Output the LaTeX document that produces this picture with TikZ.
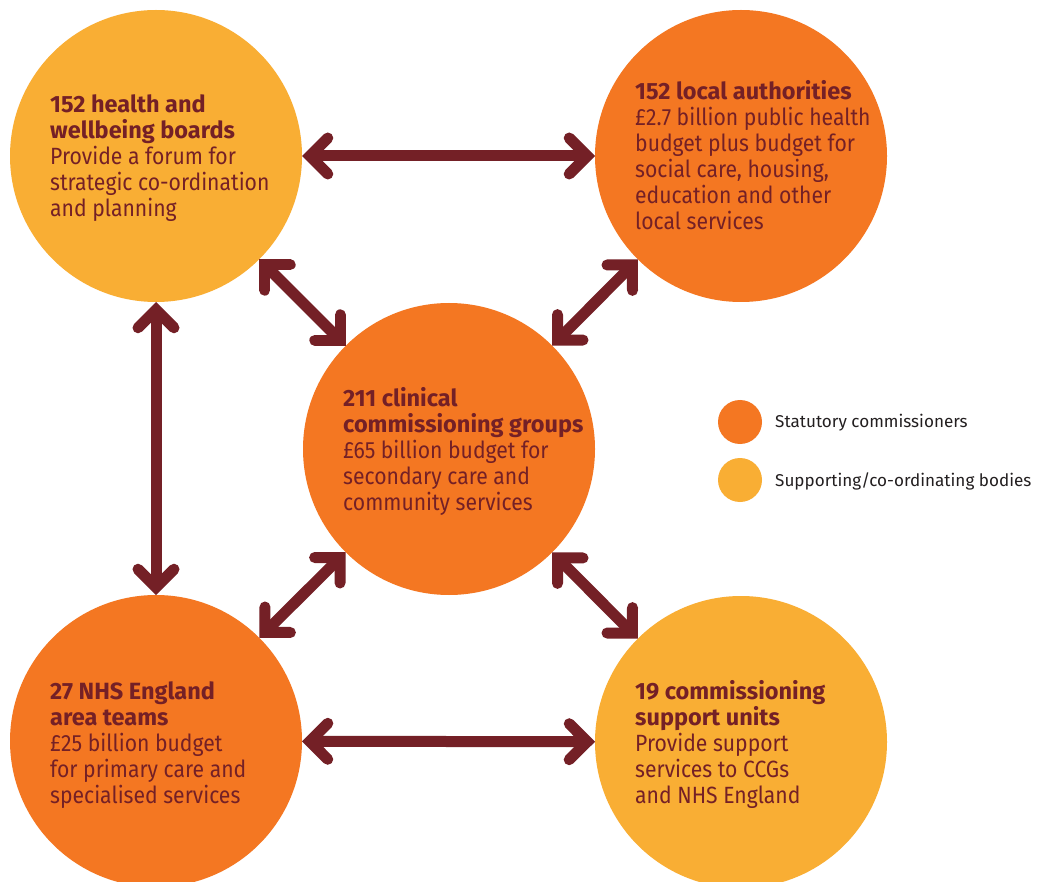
\documentclass[tikz,border=0pt]{standalone}
\usepackage{fontspec}
\setmainfont{Fira Sans}
\newfontfamily\bodyfont{Fira Sans}[FakeStretch=0.9]
\usetikzlibrary{arrows.meta}
\definecolor{orangeC}{RGB}{244,119,34}
\definecolor{yellowC}{RGB}{249,174,52}
\definecolor{maroonC}{RGB}{116,32,38}
\definecolor{legtext}{RGB}{35,31,32}
\newcommand{\ttl}{\bfseries}
\newcommand{\bdy}{\bodyfont\mdseries}
\begin{document}
\begin{tikzpicture}[x=1pt,y=-1pt,
  circ/.style={circle, minimum size=292pt, inner sep=0pt, outer sep=0pt},
  stat/.style={circ, fill=orangeC},
  supp/.style={circ, fill=yellowC},
  tipb/.tip={Straight Barb[length=18pt,width=36pt,line cap=round,line join=miter]},
  arr/.style={line width=11pt, draw=maroonC, tipb-tipb},
  lbl/.style={anchor=base west, align=left, inner sep=0pt, text=maroonC,
    font=\fontsize{23.5}{26}\selectfont},
  legc/.style={circle, minimum size=44pt, inner sep=0pt},
  legl/.style={anchor=base west, inner sep=0pt, text=legtext,
    font=\fontsize{17.1}{20}\selectfont}]
\clip (0,0) rectangle (1044,882);
\fill[white] (0,0) rectangle (1044,882);
% circles
\node[supp] (hwb) at (156,156) {};
\node[stat] (la)  at (741,156) {};
\node[stat] (ccg) at (449,449) {};
\node[stat] (nhs) at (156,741) {};
\node[supp] (csu) at (741,742) {};
% texts (anchored at the baseline of the last line)
\node[lbl] (thwb) at (50,217) {\ttl 152 health and\\ \ttl wellbeing boards\\ \bdy Provide a forum for\\ \bdy strategic co-ordination\\ \bdy and planning};
\node[lbl] (tla) at (635,230) {\ttl 152 local authorities\\ \bdy £2.7 billion public health\\ \bdy budget plus budget for\\ \bdy social care, housing,\\ \bdy education and other\\ \bdy local services};
\node[lbl] (tccg) at (343,510) {\ttl 211 clinical\\ \ttl commissioning groups\\ \bdy £65 billion budget for\\ \bdy secondary care and\\ \bdy community services};
\node[lbl] (tnhs) at (50,803) {\ttl 27 NHS England\\ \ttl area teams\\ \bdy £25 billion budget\\ \bdy for primary care and\\ \bdy specialised services};
\node[lbl] (tcsu) at (635,803) {\ttl 19 commissioning\\ \ttl support units\\ \bdy Provide support\\ \bdy services to CCGs\\ \bdy and NHS England};
% arrows
\draw[arr] (hwb) -- (la);
\draw[arr] (nhs) -- (csu);
\draw[arr] (hwb) -- (nhs);
\draw[arr] (hwb) -- (ccg);
\draw[arr] (la) -- (ccg);
\draw[arr] (nhs) -- (ccg);
\draw[arr] (csu) -- (ccg);
% legend
\node[legc, fill=orangeC] (lgo) at (740,422) {};
\node[legc, fill=yellowC] (lgy) at (740,480) {};
\node[legl] (lgot) at (775,428) {Statutory commissioners};
\node[legl] (lgyt) at (775,486) {Supporting/co-ordinating bodies};
\end{tikzpicture}
\end{document}
